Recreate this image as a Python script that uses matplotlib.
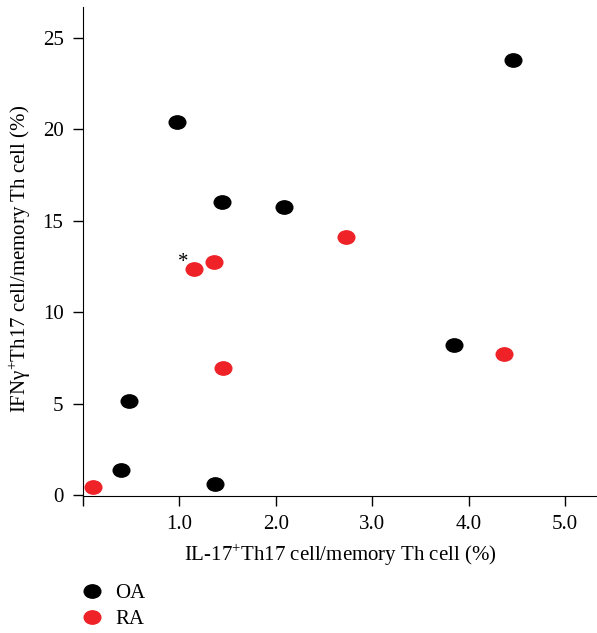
import numpy as np
import matplotlib.pyplot as plt
from matplotlib.path import Path
from matplotlib.transforms import Affine2D

plt.rcParams['font.family'] = ['Liberation Serif', 'DejaVu Serif']
plt.rcParams['mathtext.fontset'] = 'custom'
plt.rcParams['mathtext.rm'] = 'Liberation Serif'

# OA (black)
oa_x = [4.46, 0.97, 1.44, 2.08, 3.85, 0.48, 0.39, 1.37]
oa_y = [23.8, 20.4, 16.05, 15.75, 8.2, 5.12, 1.4, 0.6]
# RA (red)
ra_x = [0.10, 1.15, 1.36, 2.73, 1.45, 4.37]
ra_y = [0.47, 12.35, 12.75, 14.1, 6.95, 7.7]

xticks = [0, 1, 2, 3, 4, 5]
xticklabels = ['', '1.0', '2.0', '3.0', '4.0', '5.0']
yticks = [0, 5, 10, 15, 20, 25]

# marcador elíptico (algo achatado)
elipse = Path.unit_circle().transformed(Affine2D().scale(1.0, 0.8))

fig = plt.figure(figsize=(5.97, 6.33), dpi=100)
ax = fig.add_axes([0.139, 0.2164, 0.861, 0.7726])

ax.plot(oa_x, oa_y, linestyle='none', marker=elipse, markersize=12,
        color='black', label='OA', clip_on=False)
ax.plot(ra_x, ra_y, linestyle='none', marker=elipse, markersize=12,
        color='#ee2227', label='RA', clip_on=False)

ax.text(1.04, 12.75, '*', fontsize=15, ha='center', va='center')

ax.set_xlim(0, 5.33)
ax.set_ylim(-0.05, 26.7)
ax.set_xticks(xticks)
ax.set_xticklabels(xticklabels)
ax.set_yticks(yticks)
ax.tick_params(direction='out', length=7, width=1, pad=7, labelsize=15)

ax.spines['top'].set_visible(False)
ax.spines['right'].set_visible(False)

ax.set_xlabel('IL-17$^{+}$Th17 cell/memory Th cell (%)', fontsize=15, labelpad=5)
ax.set_ylabel('IFNγ$^{+}$Th17 cell/memory Th cell (%)', fontsize=15)
ax.yaxis.set_label_coords(-0.098, 0.485)

fig.legend(loc='upper left', bbox_to_anchor=(0.102, 0.108), frameon=False,
           fontsize=15, handletextpad=0.5, labelspacing=0.3, handlelength=1.2)

fig.savefig('out.png', dpi=100)
